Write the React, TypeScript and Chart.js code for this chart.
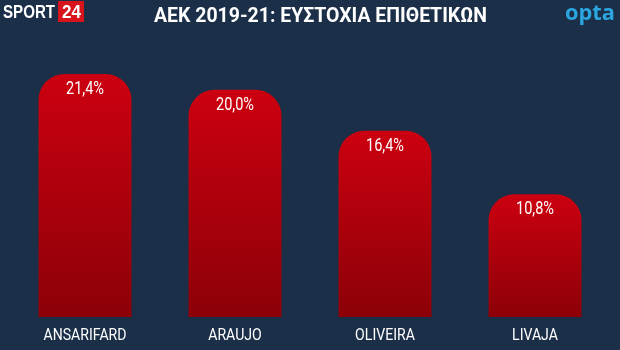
import React, { useEffect, useRef } from "react";
import { Chart, registerables } from "chart.js";

Chart.register(...registerables);

const players = ["ANSARIFARD", "ARAUJO", "OLIVEIRA", "LIVAJA"];
const accuracy = [21.4, 20.0, 16.4, 10.8];
const valueLabels = ["21,4%", "20,0%", "16,4%", "10,8%"];
const titleText = "ΑΕΚ 2019-21: ΕΥΣΤΟΧΙΑ ΕΠΙΘΕΤΙΚΩΝ";

const BG = "#1b2f48";
const FONT = '"Roboto", "DejaVu Sans", sans-serif';

function drawScaled(c: any, text: string, cx: number, baseline: number, font: string, sx: number, align = "center") {
  c.save();
  c.font = font;
  c.textAlign = align;
  c.textBaseline = "alphabetic";
  c.translate(cx, baseline);
  c.scale(sx, 1);
  c.fillText(text, 0, 0);
  c.restore();
}

function fitScale(c: any, text: string, font: string, width: number) {
  c.save();
  c.font = font;
  const w = c.measureText(text).width;
  c.restore();
  return width / w;
}

const headerPlugin = {
  id: "header",
  afterDraw(chart: any) {
    const c = chart.ctx;
    c.save();
    // SPORT 24 logo
    c.fillStyle = "#d7141c";
    c.fillRect(58, 1, 26, 21);
    c.fillStyle = "#ffffff";
    const lf = 'bold 18px "Liberation Sans", Arial, sans-serif';
    drawScaled(c, "SPORT", 3, 18, lf, fitScale(c, "SPORT", lf, 52), "left");
    drawScaled(c, "24", 62, 18, lf, fitScale(c, "24", lf, 19), "left");
    // title
    const tf = "bold 21px " + FONT;
    drawScaled(c, titleText, 320.5, 22, tf, fitScale(c, titleText, tf, 333));
    // opta
    c.fillStyle = "#2ba6e1";
    const of = 'bold 21px "Open Sans", "DejaVu Sans", sans-serif';
    drawScaled(c, "opta", 590, 20, of, fitScale(c, "opta", of, 50));
    // x labels
    c.fillStyle = "#ffffff";
    const xf = "17px " + FONT;
    const xs = fitScale(c, "ANSARIFARD", xf, 83);
    const meta = chart.getDatasetMeta(0);
    meta.data.forEach((bar: any, i: number) => {
      drawScaled(c, players[i], bar.x, 340, xf, xs);
    });
    c.restore();
  },
};

const valuePlugin = {
  id: "values",
  afterDatasetsDraw(chart: any) {
    const c = chart.ctx;
    const meta = chart.getDatasetMeta(0);
    c.save();
    c.fillStyle = "#ffffff";
    const vf = "18px " + FONT;
    const vs = fitScale(c, "21,4%", vf, 38);
    meta.data.forEach((bar: any, i: number) => {
      drawScaled(c, valueLabels[i], bar.x, bar.y + 20, vf, vs);
    });
    c.restore();
  },
};

export default function App() {
  const ref = useRef<HTMLCanvasElement>(null);
  useEffect(() => {
    document.body.style.margin = "0";
    document.body.style.background = BG;
    const chart = new Chart(ref.current!, {
      type: "bar",
      data: {
        labels: players,
        datasets: [
          {
            data: accuracy,
            backgroundColor: (ctx: any) => {
              const chart = ctx.chart;
              const y = chart.scales?.y;
              if (!y || ctx.raw == null) return "#b0000c";
              const top = y.getPixelForValue(ctx.raw);
              const bottom = y.getPixelForValue(0);
              if (!isFinite(top) || !isFinite(bottom) || bottom <= top) return "#b0000c";
              const g = chart.ctx.createLinearGradient(0, top, 0, bottom);
              g.addColorStop(0, "#cc0010");
              g.addColorStop(1, "#8c0008");
              return g;
            },
            borderWidth: 0,
            borderRadius: { topLeft: 26, topRight: 26, bottomLeft: 0, bottomRight: 0 },
            borderSkipped: false,
            barPercentage: 0.62,
            categoryPercentage: 1,
          },
        ],
      },
      options: {
        responsive: false,
        animation: false,
        layout: { padding: { top: 33, left: 10, right: 10, bottom: 33 } },
        plugins: { legend: { display: false }, tooltip: { enabled: false }, title: { display: false } },
        scales: {
          x: { display: false },
          y: { display: false, min: 0, max: 25 },
        },
      },
      plugins: [headerPlugin, valuePlugin],
    });
    return () => chart.destroy();
  }, []);
  return (
    <div style={{ width: 620, height: 350, background: BG }}>
      <canvas ref={ref} width={620} height={350} style={{ display: "block" }} />
    </div>
  );
}
